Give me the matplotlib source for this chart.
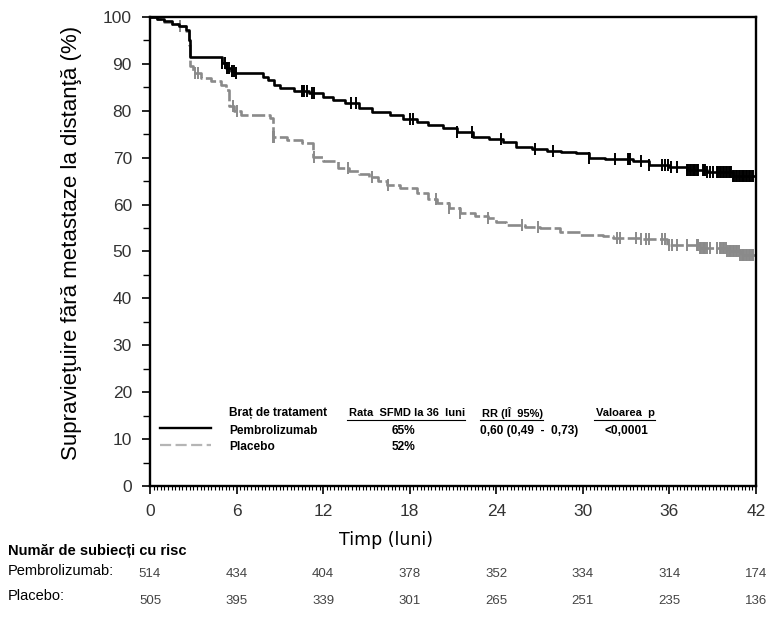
import numpy as np
import matplotlib
matplotlib.use("Agg")
import matplotlib.pyplot as plt
from matplotlib.ticker import MultipleLocator

# ---------- date ----------
pem_t = [0, 0.5, 1.0, 1.5, 2.0, 2.5, 2.7, 2.8, 5.0, 5.3, 5.6, 5.9, 7.8, 8.2, 8.6, 9.0,
         10.0, 11.0, 12.0, 12.7, 13.5, 14.5, 15.4, 16.6, 17.5, 18.5, 19.3, 20.3, 21.3,
         22.4, 23.5, 24.5, 25.4, 26.5, 27.5, 28.5, 29.5, 30.4, 31.5, 33.5, 34.6, 36.0,
         37.2, 38.6, 40.4, 42.0]
pem_s = [100, 99.6, 99.2, 98.6, 98.0, 97.2, 95.0, 91.4, 90.2, 89.2, 88.4, 88.0, 87.3, 86.5,
         85.5, 84.8, 84.3, 83.7, 83.0, 82.3, 81.7, 80.5, 79.7, 79.1, 78.3, 77.7, 77.0, 76.3,
         75.5, 74.4, 73.9, 73.4, 72.3, 71.8, 71.4, 71.2, 71.0, 70.0, 69.7, 69.3, 68.4, 68.1,
         67.4, 67.0, 66.0, 65.8]

pla_t = [0, 0.5, 1.0, 1.5, 2.0, 2.5, 2.7, 2.8, 3.0, 3.5, 4.2, 4.9, 5.3, 5.5, 5.8, 6.3,
         8.3, 8.5, 9.5, 10.5, 11.3, 12.0, 13.0, 13.8, 14.5, 15.2, 15.8, 16.4, 17.3, 18.5,
         19.3, 19.9, 20.7, 21.5, 22.5, 23.4, 24.0, 24.7, 26.0, 27.0, 28.4, 29.8, 31.4,
         32.1, 34.0, 35.8, 38.1, 40.0, 40.9, 42.0]
pla_s = [100, 99.5, 99.0, 98.5, 98.0, 97.0, 94.0, 89.5, 88.0, 87.0, 86.3, 85.5, 84.4, 81.0,
         80.0, 79.1, 78.5, 74.4, 73.8, 73.1, 70.2, 69.3, 67.8, 67.2, 66.5, 65.9, 65.0, 64.2,
         63.5, 62.5, 61.3, 60.3, 59.3, 58.2, 57.6, 57.1, 56.2, 55.6, 55.3, 55.0, 54.2, 53.5,
         53.3, 52.8, 52.6, 51.4, 50.7, 50.0, 49.3, 49.3]

# momente de cenzurare
pem_cens = [5.0, 5.2, 5.35, 5.5, 5.65, 5.8, 5.95, 10.5, 10.6, 10.7, 10.85, 11.2, 11.4,
            13.9, 14.3, 18.0, 18.2, 21.3, 22.3, 24.3, 26.7, 27.9, 30.4, 32.2, 33.1, 33.2,
            33.3, 34.0, 34.6, 35.5, 35.7, 35.9, 36.1, 36.5, 37.2, 37.3, 37.4, 37.5, 37.6,
            37.7, 37.8, 37.9, 38.0, 38.3, 38.4, 38.5, 38.6, 38.8, 39.0, 39.3, 39.4, 39.5,
            39.6, 39.7, 39.8, 39.9, 40.0, 40.1, 40.2, 40.3, 40.4, 40.5, 40.6, 40.7, 40.8,
            40.9, 41.0, 41.1, 41.2, 41.3, 41.4, 41.5, 41.6, 41.7, 41.8]
pla_cens = [2.1, 3.1, 3.3, 5.75, 6.0, 8.5, 8.6, 11.4, 13.7, 15.4, 16.5, 19.8, 20.7, 21.5,
            23.4, 25.8, 26.9, 32.4, 32.6, 33.7, 34.0, 34.4, 34.6, 35.5, 35.7, 36.0, 36.2,
            36.5, 37.2, 37.9, 38.0, 38.1, 38.2, 38.3, 38.4, 38.5, 38.6, 38.8, 39.3, 39.5,
            39.6, 39.7, 39.8, 39.9, 40.0, 40.1, 40.2, 40.3, 40.4, 40.5, 40.6, 40.7, 40.8,
            40.9, 41.0, 41.1, 41.2, 41.3, 41.4, 41.5, 41.6, 41.7, 41.8]

risk_times = [0, 6, 12, 18, 24, 30, 36, 42]
risk_pem = [514, 434, 404, 378, 352, 334, 314, 174]
risk_pla = [505, 395, 339, 301, 265, 251, 235, 136]

grey = "#8a8a8a"
narrow = ["Liberation Sans Narrow", "Liberation Sans", "DejaVu Sans"]
arial = ["Liberation Sans", "DejaVu Sans"]

W, H = 772, 623
fig = plt.figure(figsize=(W / 100, H / 100), dpi=100)
ax = fig.add_axes([150 / W, 1 - 486 / H, 606 / W, 469 / H])


def step_at(t, s, c):
    t = np.asarray(t)
    idx = np.searchsorted(t, c, side="right") - 1
    return np.asarray(s)[idx]


# curbe
ax.plot(pem_t, pem_s, drawstyle="steps-post", color="black", lw=1.9, zorder=3)
l2, = ax.plot(pla_t, pla_s, drawstyle="steps-post", color=grey, lw=1.9, zorder=2)
l2.set_dashes((5, 1.3))
ax.plot(pem_cens, step_at(pem_t, pem_s, pem_cens), ls="none", marker="|",
        ms=8, mew=1.4, color="black", zorder=3)
ax.plot(pla_cens, step_at(pla_t, pla_s, pla_cens), ls="none", marker="|",
        ms=8, mew=1.4, color=grey, zorder=2)

ax.set_xlim(0, 42)
ax.set_ylim(0, 100)
ax.xaxis.set_major_locator(MultipleLocator(6))
ax.xaxis.set_minor_locator(MultipleLocator(0.25))
ax.yaxis.set_major_locator(MultipleLocator(10))
ax.yaxis.set_minor_locator(MultipleLocator(5))
ax.tick_params(which="major", length=6, width=1.2, labelsize=12.5, pad=7)
ax.tick_params(which="minor", length=3, width=0.8)
ax.tick_params(axis="y", which="minor", length=5, width=1.0)
for lab in ax.get_xticklabels() + ax.get_yticklabels():
    lab.set_family(arial)
    lab.set_color("#333333")
for sp in ax.spines.values():
    sp.set_linewidth(1.7)

# legenda / tabel
fs = 8.6
ax.plot([0.7, 4.2], [12.4, 12.4], color="black", lw=1.7)
lg, = ax.plot([0.7, 4.2], [8.7, 8.7], color="#b5b5b5", lw=1.6)
lg.set_dashes((5, 2))
hdr_y, r1_y, r2_y = 15.6, 11.8, 8.4
kw = dict(fontweight="bold", family=narrow, va="center")
ax.text(5.5, hdr_y, "Braț de tratament", fontsize=fs, **kw)
heads = [ax.text(13.8, hdr_y, "Rata  SFMD la 36  luni", fontsize=8.0, **kw),
         ax.text(23.0, hdr_y, "RR (IÎ  95%)", fontsize=8.0, **kw),
         ax.text(30.9, hdr_y, "Valoarea  p", fontsize=8.0, **kw)]
ax.text(5.5, r1_y, "Pembrolizumab", fontsize=fs, **kw)
ax.text(5.5, r2_y, "Placebo", fontsize=fs, **kw)
ax.text(17.6, r1_y, "65%", fontsize=fs, ha="center", **kw)
ax.text(17.6, r2_y, "52%", fontsize=fs, ha="center", **kw)
ax.text(22.9, r1_y, "0,60 (0,49  -  0,73)", fontsize=fs, **kw)
ax.text(31.5, r1_y, "<0,0001", fontsize=fs, **kw)

fig.canvas.draw()
inv = ax.transData.inverted()
for h in heads:
    bb = h.get_window_extent()
    x0, _ = inv.transform((bb.x0 - 2, 0))
    x1, _ = inv.transform((bb.x1, 0))
    ax.plot([x0, x1], [14.1, 14.1], color="black", lw=0.8)

# etichete axe
fig.text(72 / W, 1 - 243 / H, "Supravieţuire fără metastaze la distanţă (%)", rotation=90,
         ha="center", va="center", fontsize=16, family=arial)
fig.text(386 / W, 1 - 540 / H, "Timp (luni)", ha="center", va="center", fontsize=12.5,
         family=["DejaVu Sans"])

# tabel pacienti la risc
fig.text(8 / W, 1 - 551 / H, "Număr de subiecți cu risc", fontsize=10.5, fontweight="bold",
         family=narrow, va="center")
fig.text(8 / W, 1 - 571 / H, "Pembrolizumab:", fontsize=10.5, family=narrow, va="center")
fig.text(8 / W, 1 - 596 / H, "Placebo:", fontsize=10.5, family=narrow, va="center")
for t, a, b in zip(risk_times, risk_pem, risk_pla):
    xf = ax.transData.transform((t, 0))[0] / W
    fig.text(xf, 1 - 574 / H, str(a), fontsize=9.5, family=narrow, ha="center", va="center", color="#444444")
    fig.text(xf, 1 - 601 / H, str(b), fontsize=9.5, family=narrow, ha="center", va="center", color="#444444")

fig.savefig("out.png", dpi=100)
